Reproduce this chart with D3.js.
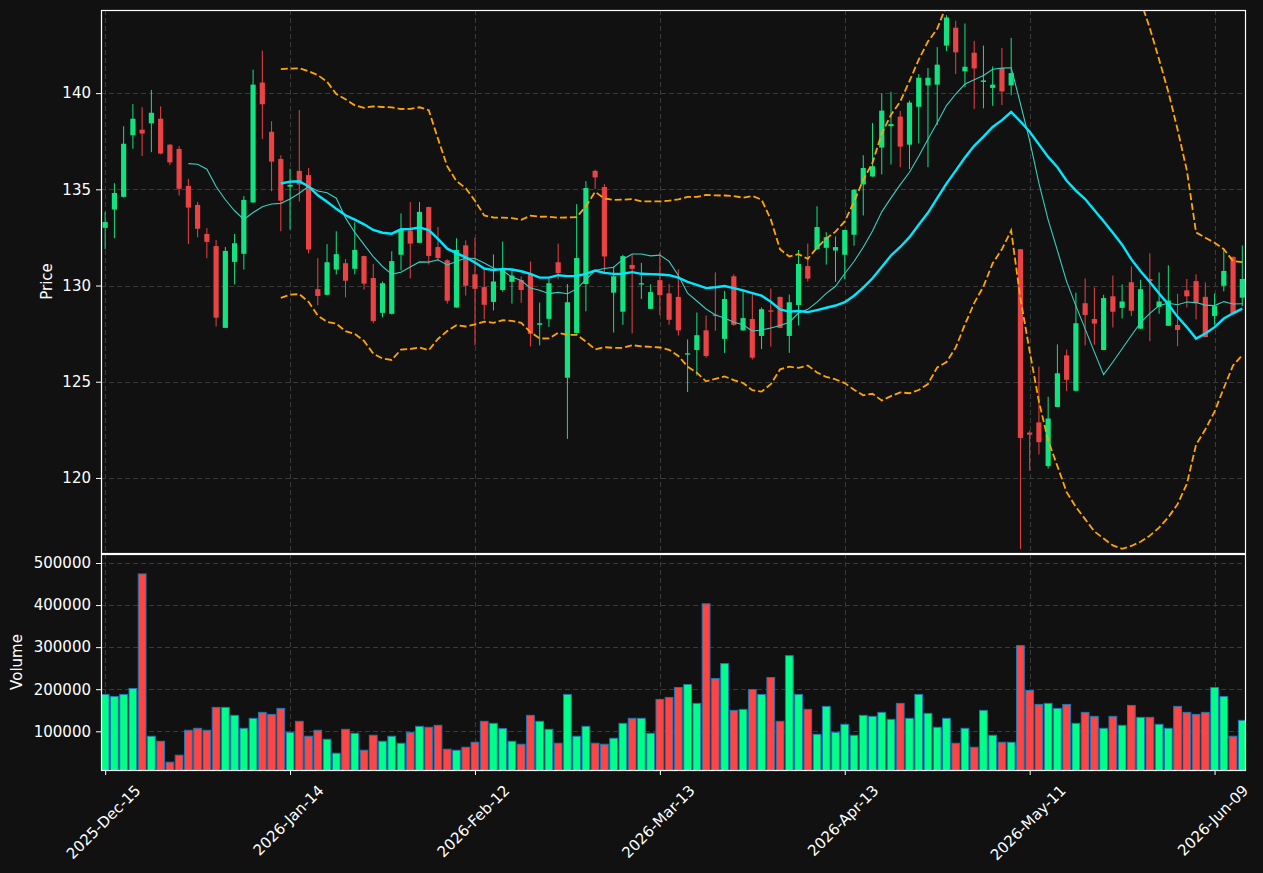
<!DOCTYPE html>
<html>
<head>
<meta charset="utf-8">
<script src="https://cdn.jsdelivr.net/npm/d3@7"></script>
<style>
  html, body { margin: 0; padding: 0; background: #111111; }
  svg { display: block; font-family: "DejaVu Sans", sans-serif; }
</style>
</head>
<body>
<svg id="chart" width="1263" height="873"></svg>
<script>
// ---------------- data ----------------
const dates = [
  "2025-12-15","2025-12-16","2025-12-17","2025-12-18","2025-12-19","2025-12-22","2025-12-23","2025-12-24","2025-12-26","2025-12-29",
  "2025-12-30","2025-12-31","2026-01-02","2026-01-05","2026-01-06","2026-01-07","2026-01-08","2026-01-09","2026-01-12","2026-01-13",
  "2026-01-14","2026-01-15","2026-01-16","2026-01-20","2026-01-21","2026-01-22","2026-01-23","2026-01-26","2026-01-27","2026-01-28",
  "2026-01-29","2026-01-30","2026-02-02","2026-02-03","2026-02-04","2026-02-05","2026-02-06","2026-02-09","2026-02-10","2026-02-11",
  "2026-02-12","2026-02-13","2026-02-17","2026-02-18","2026-02-19","2026-02-20","2026-02-23","2026-02-24","2026-02-25","2026-02-26",
  "2026-02-27","2026-03-02","2026-03-03","2026-03-04","2026-03-05","2026-03-06","2026-03-09","2026-03-10","2026-03-11","2026-03-12",
  "2026-03-13","2026-03-16","2026-03-17","2026-03-18","2026-03-19","2026-03-20","2026-03-23","2026-03-24","2026-03-25","2026-03-26",
  "2026-03-27","2026-03-30","2026-03-31","2026-04-01","2026-04-02","2026-04-06","2026-04-07","2026-04-08","2026-04-09","2026-04-10",
  "2026-04-13","2026-04-14","2026-04-15","2026-04-16","2026-04-17","2026-04-20","2026-04-21","2026-04-22","2026-04-23","2026-04-24",
  "2026-04-27","2026-04-28","2026-04-29","2026-04-30","2026-05-01","2026-05-04","2026-05-05","2026-05-06","2026-05-07","2026-05-08",
  "2026-05-11","2026-05-12","2026-05-13","2026-05-14","2026-05-15","2026-05-18","2026-05-19","2026-05-20","2026-05-21","2026-05-22",
  "2026-05-26","2026-05-27","2026-05-28","2026-05-29","2026-06-01","2026-06-02","2026-06-03","2026-06-04","2026-06-05","2026-06-08",
  "2026-06-09","2026-06-10","2026-06-11","2026-06-12"
];

const open = [
  133.00,133.95,134.61,137.81,138.10,138.43,138.67,137.32,137.10,135.18,
  134.19,132.68,132.05,127.80,131.23,131.65,134.32,140.55,137.99,136.58,
  135.14,135.96,135.74,129.81,129.52,130.83,131.16,130.87,131.53,130.39,
  128.58,128.53,131.60,132.86,132.22,134.08,132.00,131.31,128.86,132.09,
  130.58,129.92,129.15,129.77,130.19,130.28,130.61,127.96,128.27,131.21,
  125.21,127.53,130.08,135.96,135.12,129.63,128.64,131.07,130.05,128.79,
  130.28,129.59,129.41,126.41,126.65,127.67,128.49,127.23,130.48,127.67,
  128.26,127.38,128.71,129.41,127.38,128.99,131.01,131.89,131.96,131.82,
  131.60,132.64,135.25,135.67,137.17,138.28,138.78,137.32,139.29,140.40,
  140.44,142.47,143.40,141.13,142.10,140.58,140.27,141.30,140.40,131.89,
  122.36,122.89,120.62,123.69,126.37,124.53,129.08,128.26,126.65,129.44,
  128.84,130.17,127.76,130.34,128.89,127.91,127.95,129.75,130.23,129.41,
  128.42,129.99,131.49,129.37
];
const high = [
  133.83,135.32,138.28,139.43,139.27,140.16,139.31,137.35,137.24,135.54,
  134.34,132.99,132.37,132.00,132.68,134.65,141.22,142.21,138.54,136.77,
  136.07,139.12,136.11,131.42,132.15,132.82,131.38,133.28,131.55,131.12,
  130.21,131.78,133.75,134.34,134.34,134.10,133.04,131.36,132.46,132.35,
  132.49,130.87,131.62,132.29,130.83,130.48,131.25,129.11,130.36,132.18,
  130.08,134.23,135.43,136.02,135.27,130.99,131.60,131.62,131.18,130.06,
  131.73,130.08,130.85,127.20,128.60,128.44,130.68,129.72,130.58,129.72,
  129.57,128.86,129.84,129.42,129.53,131.85,132.18,134.12,132.77,132.55,
  132.90,135.00,136.77,138.45,140.00,140.07,139.07,139.62,140.99,141.30,
  142.39,144.05,143.76,143.62,142.72,142.47,141.39,142.34,142.87,131.90,
  122.45,125.79,124.22,126.94,126.67,129.63,130.37,129.90,129.52,130.52,
  130.06,130.99,130.30,131.67,130.68,131.05,129.57,130.34,130.58,130.16,
  129.59,131.84,131.50,132.09
];
const low = [
  131.89,132.46,134.58,137.11,136.73,136.93,136.82,136.26,134.68,132.15,
  132.51,131.42,127.87,127.80,130.06,130.83,134.30,137.61,134.90,132.82,
  132.91,134.37,131.67,128.97,129.50,130.58,129.39,130.58,129.79,128.04,
  128.35,128.50,130.78,130.37,132.20,131.09,131.25,129.06,128.85,129.48,
  126.89,128.24,128.71,129.68,129.06,129.10,126.83,126.89,127.85,130.32,
  122.03,127.50,128.66,135.01,130.58,127.56,127.96,127.51,129.30,128.78,
  128.46,127.96,127.40,124.47,125.32,126.25,127.65,126.50,127.91,127.65,
  126.16,126.70,126.83,127.78,126.50,127.93,130.21,131.85,131.09,130.19,
  130.32,132.07,133.64,135.65,135.78,136.29,136.15,136.05,137.39,136.15,
  138.34,142.19,140.99,140.31,139.18,139.21,139.34,139.38,139.89,116.31,
  120.38,121.22,120.49,123.68,124.51,124.50,126.89,126.92,126.64,127.82,
  128.29,128.42,127.75,127.11,128.53,127.90,126.85,128.86,128.24,127.31,
  127.96,129.70,128.56,128.93
];
const close = [
  133.30,134.81,137.37,138.67,137.90,138.98,136.86,136.40,135.03,134.05,
  132.95,132.27,128.33,131.80,132.20,134.45,140.44,139.42,136.44,134.41,
  135.23,135.25,131.87,129.46,131.21,131.63,130.25,131.85,130.10,128.16,
  130.12,131.27,132.89,132.18,133.83,131.54,131.43,129.21,131.85,129.99,
  129.83,129.00,130.21,130.81,130.52,129.77,127.49,128.04,130.12,130.65,
  129.13,131.43,135.07,135.62,131.51,130.48,131.53,130.87,130.12,129.66,
  129.50,128.22,127.67,126.48,127.42,126.34,128.42,129.30,127.96,128.31,
  126.25,128.77,128.64,127.80,129.13,131.12,130.36,133.04,132.51,132.00,
  132.89,134.98,136.11,136.20,139.09,138.39,137.22,139.51,140.80,140.80,
  141.48,143.93,142.12,141.37,141.28,140.66,140.44,140.09,141.04,122.08,
  122.25,121.86,123.09,125.44,125.10,128.04,128.47,128.02,129.35,128.64,
  129.17,128.69,129.81,130.23,129.17,129.22,127.69,129.44,129.08,127.32,
  128.93,130.76,128.57,130.34
];
const volume = [
  187600,182800,187600,201800,474000,88200,76300,26600,43200,102400,
  107100,102400,156800,156800,137900,107100,130800,145000,140200,154400,
  97600,123700,88200,102400,81100,47900,104700,95300,55000,90500,
  76300,88200,71600,97600,111800,109500,114200,57400,55000,62100,
  74000,123700,118900,106300,76300,69200,137900,123700,104700,71600,
  187600,88200,111800,71600,69200,83400,118900,130800,130800,95300,
  175700,180500,204100,211200,166300,403000,225400,260900,149700,152100,
  199400,187600,227800,123700,279800,187600,152100,92900,159200,97600,
  116600,90500,137900,135500,145000,128400,166300,130800,187600,142600,
  109500,130800,71600,107100,62100,149700,90500,74000,74000,303600,
  197000,163900,166300,154400,163900,118900,145000,135500,107100,135500,
  114200,161500,133100,133100,116600,107100,159200,145000,140200,145000,
  204100,182800,88200,126000
];

const tickIndex = [0, 20, 40, 60, 80, 100, 120];
const priceTicks = [120, 125, 130, 135, 140];
const volumeTicks = [100000, 200000, 300000, 400000, 500000];

// ---------------- indicators derived from the closes ----------------
function rollingMean(arr, n) {
  return arr.map((_, i) => i < n - 1 ? null : d3.mean(arr.slice(i - n + 1, i + 1)));
}
function rollingStd(arr, n) {
  return arr.map((_, i) => {
    if (i < n - 1) return null;
    const w = arr.slice(i - n + 1, i + 1);
    const m = d3.mean(w);
    return Math.sqrt(d3.mean(w, v => (v - m) * (v - m)));
  });
}
const ma10 = rollingMean(close, 10);
const ma20 = rollingMean(close, 20);
const sd20 = rollingStd(close, 20);
const bbUpper = ma20.map((m, i) => m == null ? null : m + 2 * sd20[i]);
const bbLower = ma20.map((m, i) => m == null ? null : m - 2 * sd20[i]);

// ---------------- layout ----------------
const L = 101, R = 1246;
const pTop = 10, pBot = 553;
const vTop = 554, vBot = 770;
const BG = "#111111", GRID = "#3a3a3a", FG = "#ffffff";
const UP = "#12e27f", DOWN = "#ea4346";
const VUP = "#00ff88", VDOWN = "#ff4444", VEDGE = "#1f77b4";
const FS = "15px";

const n = close.length;
const idx = d3.range(n);
const x = d3.scaleLinear().domain([-0.45, n - 1 + 0.4]).range([L, R]);
const step = x(1) - x(0);
const yP = d3.scaleLinear().domain([116.1, 144.32]).range([pBot, pTop]);
const yV = d3.scaleLinear().domain([0.3 * d3.min(volume), 1.1 * d3.max(volume)]).range([vBot, vTop]);

const parse = d3.timeParse("%Y-%m-%d");
const fmt = d3.timeFormat("%Y-%b-%d");

const svg = d3.select("#chart");
svg.append("rect").attr("width", 1263).attr("height", 873).attr("fill", BG);

const defs = svg.append("defs");
defs.append("clipPath").attr("id", "clipP").append("rect")
  .attr("x", L).attr("y", pTop).attr("width", R - L).attr("height", pBot - pTop);
defs.append("clipPath").attr("id", "clipV").append("rect")
  .attr("x", L).attr("y", vTop).attr("width", R - L).attr("height", vBot - vTop);

// ---------------- grids ----------------
const grid = svg.append("g").attr("stroke", GRID).attr("stroke-width", 1).attr("stroke-dasharray", "5,3");
grid.selectAll("line.gp").data(priceTicks).join("line")
  .attr("x1", L).attr("x2", R).attr("y1", d => Math.round(yP(d)) + 0.5).attr("y2", d => Math.round(yP(d)) + 0.5);
grid.selectAll("line.gv").data(volumeTicks).join("line").attr("class", "gv")
  .attr("x1", L).attr("x2", R).attr("y1", d => Math.round(yV(d)) + 0.5).attr("y2", d => Math.round(yV(d)) + 0.5);
grid.selectAll("line.gx").data(tickIndex).join("line").attr("class", "gx")
  .attr("x1", d => Math.round(x(d)) + 0.5).attr("x2", d => Math.round(x(d)) + 0.5)
  .attr("y1", pTop).attr("y2", vBot);

// ---------------- candles ----------------
const cg = svg.append("g").attr("clip-path", "url(#clipP)");
const bodyW = step * 0.56;
cg.selectAll("line.wick").data(idx).join("line").attr("class", "wick")
  .attr("x1", i => x(i)).attr("x2", i => x(i))
  .attr("y1", i => yP(high[i])).attr("y2", i => yP(low[i]))
  .attr("stroke", i => close[i] >= open[i] ? UP : DOWN).attr("stroke-width", 1);
cg.selectAll("rect.body").data(idx).join("rect").attr("class", "body")
  .attr("x", i => x(i) - bodyW / 2).attr("width", bodyW)
  .attr("y", i => yP(Math.max(open[i], close[i])))
  .attr("height", i => Math.max(1.2, Math.abs(yP(open[i]) - yP(close[i]))))
  .attr("fill", i => close[i] >= open[i] ? UP : DOWN);

// ---------------- indicator lines ----------------
function lineOf(arr) {
  return d3.line().defined(i => arr[i] != null).x(i => x(i)).y(i => yP(arr[i]))(idx);
}
cg.append("path").attr("d", lineOf(ma10)).attr("fill", "none")
  .attr("stroke", "#3ccdbd").attr("stroke-width", 1.1);
cg.append("path").attr("d", lineOf(ma20)).attr("fill", "none")
  .attr("stroke", "#00e8ff").attr("stroke-width", 2.4);
[bbUpper, bbLower].forEach(arr => {
  cg.append("path").attr("d", lineOf(arr)).attr("fill", "none")
    .attr("stroke", "#ffa500").attr("stroke-width", 1.8).attr("stroke-dasharray", "7,3");
});

// ---------------- volume ----------------
const vg = svg.append("g").attr("clip-path", "url(#clipV)");
const volW = step * 0.84;
vg.selectAll("rect.vol").data(idx).join("rect").attr("class", "vol")
  .attr("x", i => x(i) - volW / 2).attr("width", volW)
  .attr("y", i => yV(volume[i])).attr("height", i => vBot + 5 - yV(volume[i]))
  .attr("fill", i => close[i] >= open[i] ? VUP : VDOWN)
  .attr("stroke", VEDGE).attr("stroke-width", 1);

// ---------------- frames ----------------
svg.append("rect").attr("x", L + 0.5).attr("y", pTop + 0.5).attr("width", R - L - 1).attr("height", pBot - pTop)
  .attr("fill", "none").attr("stroke", FG).attr("stroke-width", 1.2);
svg.append("rect").attr("x", L + 0.5).attr("y", vTop + 0.5).attr("width", R - L - 1).attr("height", vBot - vTop)
  .attr("fill", "none").attr("stroke", FG).attr("stroke-width", 1.2);

// ---------------- axes ----------------
function styleAxis(g) {
  g.select(".domain").remove();
  g.selectAll(".tick line").attr("stroke", FG).attr("stroke-width", 1);
  g.selectAll(".tick text").attr("fill", FG).style("font-size", FS).style("font-family", "DejaVu Sans");
}
svg.append("g").attr("transform", `translate(${L},0)`)
  .call(d3.axisLeft(yP).tickValues(priceTicks).tickFormat(d3.format("d")).tickSize(5).tickPadding(5))
  .call(styleAxis);
svg.append("g").attr("transform", `translate(${L},0)`)
  .call(d3.axisLeft(yV).tickValues(volumeTicks).tickFormat(d3.format("d")).tickSize(5).tickPadding(5))
  .call(styleAxis);
const xa = svg.append("g").attr("transform", `translate(0,${vBot})`)
  .call(d3.axisBottom(x).tickValues(tickIndex).tickFormat(i => fmt(parse(dates[i]))).tickSize(5).tickPadding(5))
  .call(styleAxis);
xa.selectAll(".tick text").each(function () {
  const t = d3.select(this);
  const w = this.getComputedTextLength();
  const H = (w + 11) * Math.SQRT1_2;
  t.attr("y", null).attr("dy", null)
    .attr("text-anchor", "middle").attr("dominant-baseline", "central")
    .attr("transform", `translate(-2,${14 + H / 2}) rotate(-45)`);
});

// axis titles
svg.append("text").attr("transform", `translate(47,${(pTop + pBot) / 2}) rotate(-90)`)
  .attr("text-anchor", "middle").attr("dominant-baseline", "central")
  .attr("fill", FG).style("font-size", FS).text("Price");
svg.append("text").attr("transform", `translate(17,${(vTop + vBot) / 2}) rotate(-90)`)
  .attr("text-anchor", "middle").attr("dominant-baseline", "central")
  .attr("fill", FG).style("font-size", FS).text("Volume");
</script>
</body>
</html>
